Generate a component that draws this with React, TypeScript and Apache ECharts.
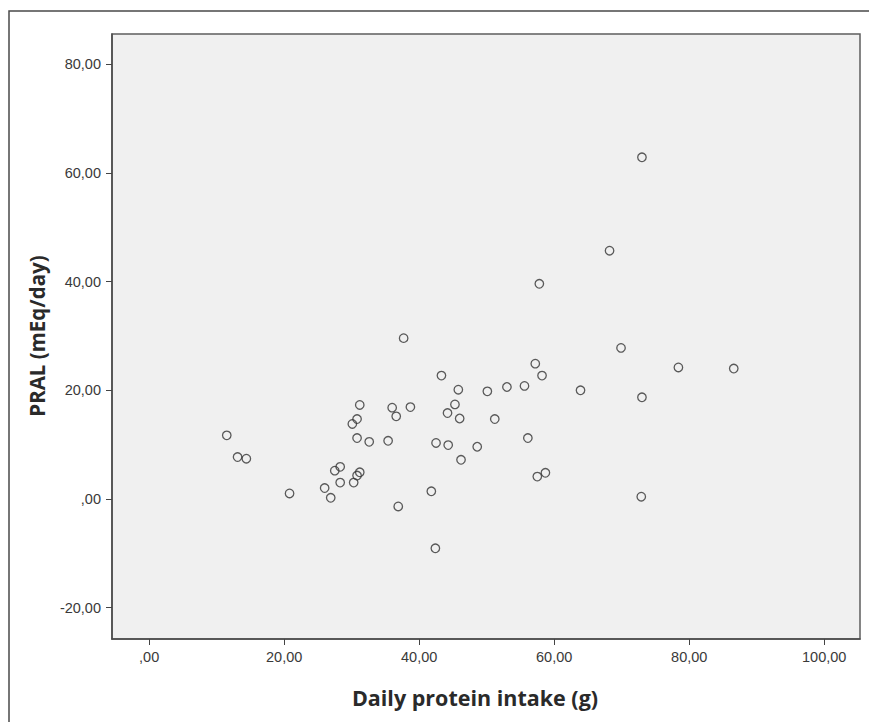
import React, { useEffect, useRef } from "react";
import * as echarts from "echarts";

const proteinIntake = [
  11.5, 13.1, 14.4, 20.8, 26.0, 26.9, 27.5, 28.3, 28.3, 30.3,
  31.2, 30.8, 30.1, 30.8, 31.2, 30.8, 32.6, 35.4, 36.0, 36.6,
  36.9, 37.7, 38.7, 41.8, 42.4, 42.5, 43.3, 44.2, 44.3, 45.3,
  45.8, 46.0, 46.2, 48.6, 50.1, 51.2, 53.0, 55.6, 56.1, 57.2,
  57.5, 57.8, 58.2, 58.7, 63.9, 68.2, 69.9, 73.0, 73.0, 72.9,
  78.4, 86.6,
];
const pral = [
  11.7, 7.7, 7.4, 1.0, 2.0, 0.2, 5.2, 5.9, 3.0, 3.0,
  4.9, 4.3, 13.8, 14.7, 17.3, 11.2, 10.5, 10.7, 16.8, 15.2,
  -1.4, 29.6, 16.9, 1.4, -9.1, 10.3, 22.7, 15.8, 9.9, 17.4,
  20.1, 14.8, 7.2, 9.6, 19.8, 14.7, 20.6, 20.8, 11.2, 24.9,
  4.1, 39.6, 22.7, 4.8, 20.0, 45.7, 27.8, 62.9, 18.7, 0.4,
  24.2, 24.0,
];
const xTicks = [0, 20, 40, 60, 80, 100];
const yTicks = [-20, 0, 20, 40, 60, 80];
const xTitle = "Daily protein intake (g)";
const yTitle = "PRAL (mEq/day)";

const fmt = (v: number) => {
  if (v === 0) return ",00";
  return v.toFixed(2).replace(".", ",");
};

export default function App() {
  const ref = useRef<HTMLDivElement>(null);
  useEffect(() => {
    if (!ref.current) return;
    const chart = echarts.init(ref.current, undefined, { renderer: "svg" });
    const data = proteinIntake.map((x, i) => [x, pral[i]]);
    chart.setOption({
      animation: false,
      backgroundColor: "#ffffff",
      grid: {
        left: 112,
        top: 34,
        right: 9,
        bottom: 83,
        show: true,
        backgroundColor: "#f0f0f0",
        borderColor: "#5e5e5e",
        borderWidth: 1.5,
      },
      xAxis: {
        type: "value",
        min: -5.5,
        max: 105.3,
        splitLine: { show: false },
        axisLine: { show: true, onZero: false, lineStyle: { color: "#4a4a4a", width: 1.5 } },
        axisTick: {
          show: true,
          inside: false,
          length: 6,
          customValues: xTicks,
          lineStyle: { color: "#444", width: 1 },
        },
        axisLabel: {
          customValues: xTicks,
          formatter: fmt,
          color: "#3a3a3a",
          fontSize: 14.5,
          fontFamily: "Liberation Sans",
          margin: 10,
        },
      },
      yAxis: {
        type: "value",
        min: -25.8,
        max: 85.6,
        splitLine: { show: false },
        axisLine: { show: true, onZero: false, lineStyle: { color: "#4a4a4a", width: 1.5 } },
        axisTick: {
          show: true,
          inside: false,
          length: 6,
          customValues: yTicks,
          lineStyle: { color: "#444", width: 1 },
        },
        axisLabel: {
          customValues: yTicks,
          formatter: fmt,
          color: "#3a3a3a",
          fontSize: 14.5,
          fontFamily: "Liberation Sans",
          margin: 11,
        },
      },
      graphic: [
        {
          type: "rect",
          z: -10,
          shape: { x: 9, y: 11, width: 900, height: 800 },
          style: { fill: "none", stroke: "#4a4a4a", lineWidth: 1.5 },
        },
        {
          type: "text",
          x: 475,
          y: 697,
          style: {
            text: xTitle,
            font: "bold 21.5px 'Open Sans'",
            fill: "#2a2a2a",
            textAlign: "center",
            textVerticalAlign: "middle",
          },
        },
        {
          type: "text",
          x: 37,
          y: 336,
          rotation: Math.PI / 2,
          style: {
            text: yTitle,
            font: "bold 20.5px 'Open Sans'",
            fill: "#2a2a2a",
            textAlign: "center",
            textVerticalAlign: "middle",
          },
        },
      ],
      series: [
        {
          type: "scatter",
          data,
          symbol: "circle",
          symbolSize: 8.5,
          itemStyle: {
            color: "rgba(255,255,255,0)",
            borderColor: "#333333",
            borderWidth: 1.3,
          },
        },
      ],
    });
    return () => chart.dispose();
  }, []);
  return (
    <div
      ref={ref}
      style={{ position: "fixed", left: 0, top: 0, width: 869, height: 722 }}
    />
  );
}
